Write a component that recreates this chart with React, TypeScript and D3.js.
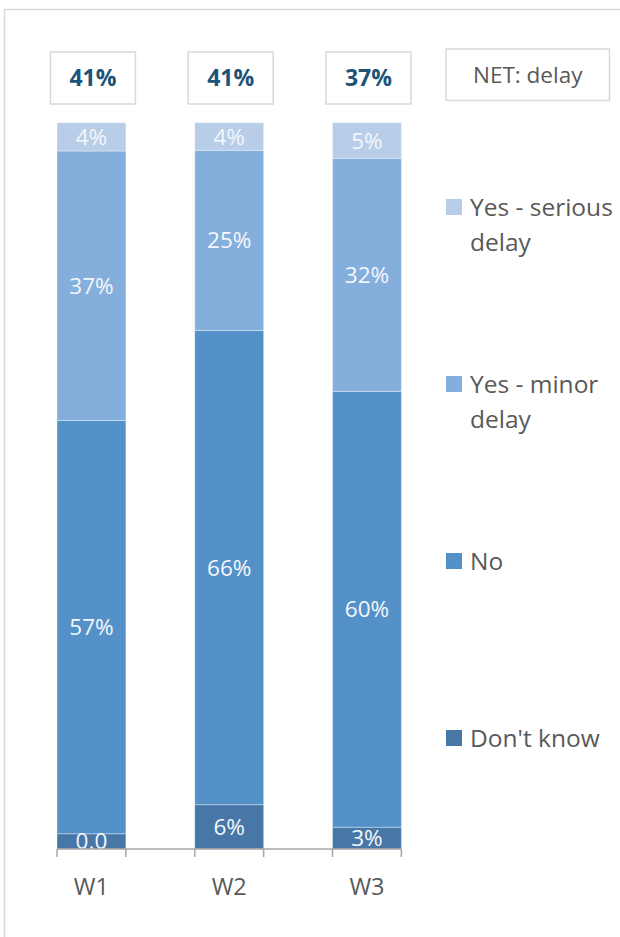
import React from "react";
import * as d3 from "d3";

const categories = ["W1", "W2", "W3"];
const seriesNames = ["Don't know", "No", "Yes - minor delay", "Yes - serious delay"];
const dontKnow = [2.1, 6.1, 3.0];
const no = [56.9, 65.3, 60.0];
const minorDelay = [37.1, 24.8, 32.1];
const seriousDelay = [3.9, 3.8, 4.9];
const dontKnowLabels = ["0.0", "6%", "3%"];
const noLabels = ["57%", "66%", "60%"];
const minorLabels = ["37%", "25%", "32%"];
const seriousLabels = ["4%", "4%", "5%"];
const netLabels = ["41%", "41%", "37%"];
const netTitle = "NET: delay";
const legendLines = [["Don't know"], ["No"], ["Yes - minor", "delay"], ["Yes - serious", "delay"]];

const colors = ["#4677A7", "#5491C8", "#84AEDB", "#B7CDE8"];
const FONT = "'Open Sans', 'Noto Sans', sans-serif";

export default function App() {
  const W = 620, H = 937;
  const plotTop = 122.7, plotBottom = 849;
  const x = d3.scaleBand<string>().domain(categories).range([57, 401.4]).paddingInner(0.5).paddingOuter(0);
  const y = d3.scaleLinear().domain([0, 100]).range([plotBottom, plotTop]);

  const rows = categories.map((c, i) => ({
    cat: c,
    dk: dontKnow[i], no: no[i], minor: minorDelay[i], serious: seriousDelay[i],
  }));
  const keys = ["dk", "no", "minor", "serious"];
  const labelSets = [dontKnowLabels, noLabels, minorLabels, seriousLabels];
  const stack = d3.stack<any>().keys(keys)(rows);

  const legendY = d3.scaleLinear().domain([0, 3]).range([738, 207]);

  return (
    <svg width={W} height={H} style={{ position: "absolute", left: 0, top: 0, background: "#fff" }} fontFamily={FONT}>
      <defs>
        <clipPath id="plotclip">
          <rect x={0} y={0} width={W} height={plotBottom} />
        </clipPath>
      </defs>
      <rect x={4.5} y={9.5} width={700} height={1000} fill="#fff" stroke="#D9D9D9" strokeWidth={1.5} />
      {stack.map((layer, li) => (
        <g key={li}>
          {layer.map((d, i) => (
            <rect key={i} x={x(categories[i])} width={x.bandwidth()} y={y(d[1])} height={y(d[0]) - y(d[1])}
              fill={colors[li]} stroke="rgba(255,255,255,0.35)" strokeWidth={1} />
          ))}
        </g>
      ))}
      <g clipPath="url(#plotclip)">
        {stack.map((layer, li) => (
          <g key={li}>
            {layer.map((d, i) => (
              <text key={i} x={(x(categories[i]) as number) + x.bandwidth() / 2} y={(y(d[0]) + y(d[1])) / 2}
                dy="0.36em" textAnchor="middle" fill="#F4F7FB" fontSize={22.5}>
                {labelSets[li][i]}
              </text>
            ))}
          </g>
        ))}
      </g>
      {/* axis */}
      <line x1={x(categories[0])} x2={(x(categories[2]) as number) + x.bandwidth()} y1={plotBottom} y2={plotBottom} stroke="#A6A6A6" strokeWidth={1.5} />
      {categories.map((c) => (
        <g key={c}>
          <line x1={x(c)} x2={x(c)} y1={plotBottom} y2={857} stroke="#A6A6A6" strokeWidth={1.5} />
          <line x1={(x(c) as number) + x.bandwidth()} x2={(x(c) as number) + x.bandwidth()} y1={plotBottom} y2={857} stroke="#A6A6A6" strokeWidth={1.5} />
          <text x={(x(c) as number) + x.bandwidth() / 2} y={887} dy="0.36em" textAnchor="middle" fill="#595959" fontSize={23.5}>{c}</text>
        </g>
      ))}
      {/* NET boxes */}
      {categories.map((c, i) => {
        const cx = (x(c) as number) + x.bandwidth() / 2 + 1.5;
        return (
          <g key={c}>
            <rect x={cx - 42.5} y={52} width={85} height={52} fill="#fff" stroke="#D9D9D9" strokeWidth={1.5} />
            <text x={cx} y={78} dy="0.36em" textAnchor="middle" fill="#1C5478" fontSize={23} fontWeight="bold">{netLabels[i]}</text>
          </g>
        );
      })}
      <rect x={446} y={49} width={163.5} height={51.5} fill="#fff" stroke="#D9D9D9" strokeWidth={1.5} />
      <text x={527.7} y={75} dy="0.36em" textAnchor="middle" fill="#595959" fontSize={22.5}>{netTitle}</text>
      {/* legend */}
      {seriesNames.map((s, i) => (
        <g key={s} transform={`translate(0,${legendY(i)})`}>
          <rect x={446} y={-8} width={16} height={16} fill={colors[i]} />
          {legendLines[i].map((line, k) => (
            <text key={k} x={470} y={k * 35} dy="0.36em" fill="#595959" fontSize={24.5}>{line}</text>
          ))}
        </g>
      ))}
    </svg>
  );
}
